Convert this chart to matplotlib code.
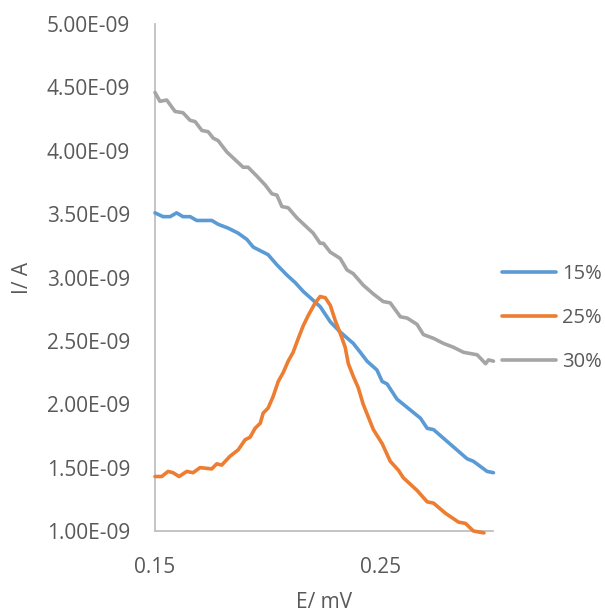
import numpy as np
import matplotlib
matplotlib.use("Agg")
import matplotlib.pyplot as plt
from matplotlib.ticker import FuncFormatter

plt.rcParams["font.family"] = ["Open Sans", "DejaVu Sans"]

# potential (V) and current (nA) for each concentration
e_15 = [0.150, 0.1536, 0.1567, 0.1596, 0.1624, 0.1656, 0.1685, 0.1752, 0.1780, 0.1824,
        0.1869, 0.1908, 0.1936, 0.2002, 0.2041, 0.2085, 0.2122, 0.2158, 0.2202, 0.2233,
        0.2278, 0.2322, 0.2380, 0.2411, 0.2441, 0.2485, 0.2508, 0.2530, 0.2574, 0.2678,
        0.2708, 0.2736, 0.2885, 0.2913, 0.2974, 0.3002]
i_15 = [3.51, 3.48, 3.48, 3.51, 3.48, 3.48, 3.45, 3.45, 3.42, 3.39,
        3.35, 3.30, 3.24, 3.18, 3.10, 3.02, 2.96, 2.89, 2.82, 2.77,
        2.65, 2.57, 2.48, 2.41, 2.34, 2.27, 2.18, 2.16, 2.04, 1.89,
        1.81, 1.80, 1.57, 1.55, 1.47, 1.46]

e_25 = [0.150, 0.1530, 0.1558, 0.1580, 0.1607, 0.1641, 0.1669, 0.1700, 0.1752, 0.1774,
        0.1796, 0.1833, 0.1869, 0.1900, 0.1922, 0.1944, 0.1967, 0.1980, 0.2002, 0.2024,
        0.2047, 0.2069, 0.2091, 0.2113, 0.2136, 0.2158, 0.2180, 0.2211, 0.2233, 0.2256,
        0.2278, 0.2300, 0.2322, 0.2344, 0.2358, 0.2380, 0.2402, 0.2424, 0.2469, 0.2508,
        0.2544, 0.2580, 0.2602, 0.2663, 0.2708, 0.2736, 0.2789, 0.2847, 0.2878, 0.2913,
        0.2944, 0.2960]
i_25 = [1.43, 1.43, 1.47, 1.46, 1.43, 1.47, 1.46, 1.50, 1.49, 1.53,
        1.52, 1.59, 1.64, 1.72, 1.74, 1.81, 1.85, 1.93, 1.97, 2.06,
        2.18, 2.25, 2.34, 2.41, 2.52, 2.62, 2.70, 2.80, 2.85, 2.84,
        2.78, 2.66, 2.56, 2.45, 2.32, 2.22, 2.13, 2.00, 1.80, 1.69,
        1.55, 1.48, 1.42, 1.32, 1.23, 1.22, 1.14, 1.07, 1.06, 1.00,
        0.99, 0.985]

e_30 = [0.150, 0.1522, 0.1552, 0.1589, 0.1624, 0.1656, 0.1678, 0.1708, 0.1736, 0.1758,
        0.1780, 0.1819, 0.1891, 0.1913, 0.1952, 0.1989, 0.2019, 0.2041, 0.2063, 0.2091,
        0.2130, 0.2202, 0.2233, 0.2247, 0.2278, 0.2322, 0.2352, 0.2380, 0.2424, 0.2469,
        0.2513, 0.2544, 0.2589, 0.2619, 0.2663, 0.2691, 0.2736, 0.2780, 0.2824, 0.2869,
        0.2930, 0.2967, 0.2980, 0.3002]
i_30 = [4.46, 4.39, 4.40, 4.31, 4.30, 4.24, 4.23, 4.16, 4.15, 4.10,
        4.08, 3.99, 3.87, 3.87, 3.80, 3.73, 3.66, 3.65, 3.56, 3.55,
        3.47, 3.35, 3.27, 3.27, 3.20, 3.15, 3.06, 3.03, 2.94, 2.87,
        2.81, 2.80, 2.69, 2.68, 2.63, 2.55, 2.52, 2.48, 2.45, 2.41,
        2.39, 2.32, 2.35, 2.34]

labels = ["15%", "25%", "30%"]
colors = ["#5B9BD5", "#ED7D31", "#A5A5A5"]
y_ticks = [1.0, 1.5, 2.0, 2.5, 3.0, 3.5, 4.0, 4.5, 5.0]
x_ticks = [0.15, 0.25]

txt = "#595959"
fig = plt.figure(figsize=(6.05, 6.12), dpi=100)
ax = fig.add_axes([155 / 605, 1 - 531 / 612, 338 / 605, 507 / 612])

for e, i, lab, c in zip([e_15, e_25, e_30], [i_15, i_25, i_30], labels, colors):
    ax.plot(e, np.array(i) * 1e-9, color=c, lw=2.6, label=lab, clip_on=False,
            solid_capstyle="round", solid_joinstyle="round")

ax.set_xlim(0.15, 0.30)
ax.set_ylim(1e-9, 5e-9)
ax.set_xticks(x_ticks)
ax.set_xticklabels([f"{v:.2f}" for v in x_ticks])
ax.set_yticks([v * 1e-9 for v in y_ticks])
ax.yaxis.set_major_formatter(FuncFormatter(lambda v, p: f"{v:.2E}"))
ax.tick_params(axis="y", length=0, pad=18, labelsize=15, labelcolor=txt)
ax.tick_params(axis="x", length=0, pad=19, labelsize=15, labelcolor=txt)

for s in ["top", "right"]:
    ax.spines[s].set_visible(False)
for s in ["left", "bottom"]:
    ax.spines[s].set_color("#BFBFBF")
    ax.spines[s].set_linewidth(1.3)
    ax.spines[s].set_zorder(1)

ax.set_xlabel("E/ mV", fontsize=15, color=txt, labelpad=10)
ax.set_ylabel("I/ A", fontsize=15, color=txt, labelpad=10)

fig.legend(loc="center left", bbox_to_anchor=(502 / 605, 1 - 318 / 612),
           frameon=False, fontsize=14.5, labelcolor=txt, handlelength=2.7,
           handletextpad=0.3, labelspacing=1.2, borderpad=0, borderaxespad=0)

fig.savefig("out.png", dpi=100)
